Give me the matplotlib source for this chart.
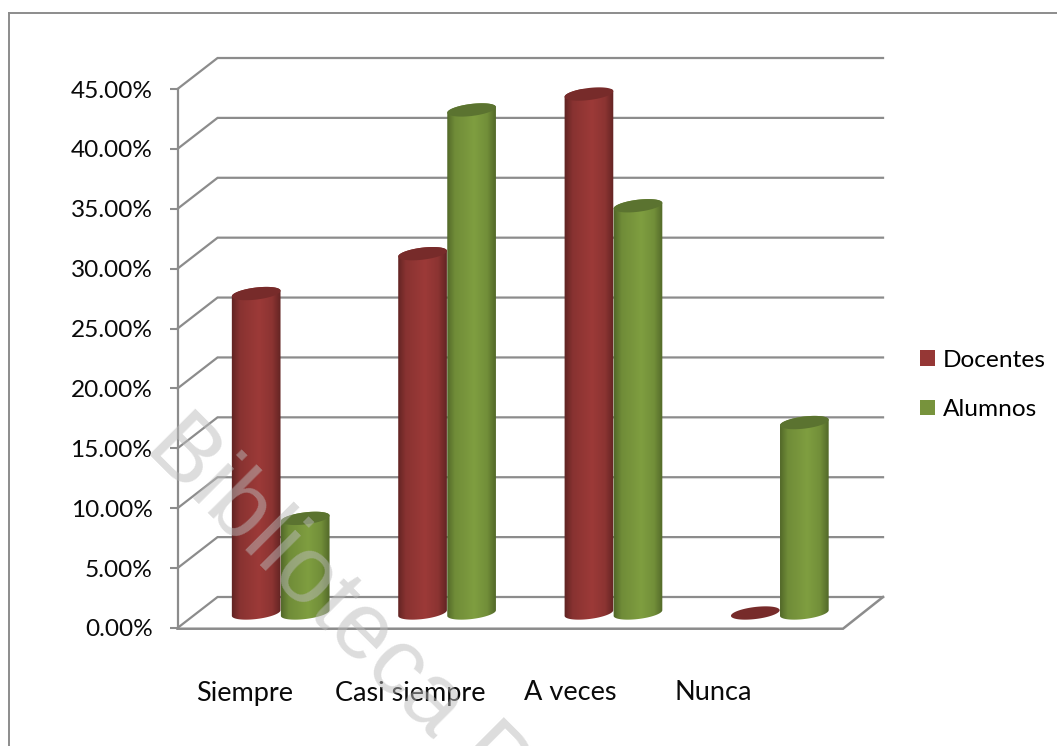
import numpy as np
import matplotlib
matplotlib.use("Agg")
import matplotlib.pyplot as plt
from matplotlib.colors import to_rgb
from matplotlib.lines import Line2D
from matplotlib.patches import Patch, Polygon
from matplotlib.path import Path
from matplotlib.transforms import IdentityTransform

categories = ["Siempre", "Casi siempre", "A veces", "Nunca"]
docentes = [26.67, 30.0, 43.33, 0.0]
alumnos = [7.9, 42.0, 34.0, 15.9]
y_ticks = [0, 5, 10, 15, 20, 25, 30, 35, 40, 45]

W, H = 1057, 746
LINE = "#8c8c8c"
plt.rcParams["font.family"] = ["Lato", "DejaVu Sans"]

# depth of the fake 3D box, in data units
box_dx = 40 / 166.25
box_dy = 31 / 11.98
# bars stand in the middle of the floor
mid_dx = 20 / 166.25
mid_dy = 15 / 11.98
bar_w = 49 / 166.25
tilt = np.radians(7)
ell_b = 6


def ellipse_pts(cx, cy, a, t):
    px = cx + a * np.cos(t) * np.cos(tilt) - ell_b * np.sin(t) * np.sin(tilt)
    py = cy + a * np.cos(t) * np.sin(tilt) + ell_b * np.sin(t) * np.cos(tilt)
    return np.column_stack([px, py])


def mix(c1, c2, f):
    return tuple(c1[i] + (c2[i] - c1[i]) * f for i in range(3))


# Draw one cylinder, shaded from left to right
def cylinder(ax, x, value, dark, mid, top, z):
    left, base = ax.transData.transform((x - bar_w / 2, mid_dy))
    right, tip = ax.transData.transform((x + bar_w / 2, value + mid_dy))
    cx = (left + right) / 2
    a = (right - left) / 2
    if value > 0:
        low = ellipse_pts(cx, base, a, np.linspace(np.pi, 2 * np.pi, 40))
        up = ellipse_pts(cx, tip, a, np.linspace(0, np.pi, 40))
        body = Path(np.vstack([low, up, low[:1]]))
        stops = [0, 0.18, 0.55, 0.8, 1]
        cols = [dark, mix(dark, mid, 0.7), mid, mix(dark, mid, 0.75), dark]
        u = np.linspace(0, 1, 64)
        grad = np.array([[np.interp(v, stops, [c[i] for c in cols]) for i in range(3)] for v in u])
        im = ax.imshow(grad[np.newaxis, :, :], aspect="auto", zorder=z, interpolation="bilinear",
                       extent=(x - bar_w / 2 - 0.01, x + bar_w / 2 + 0.01, 0, value + mid_dy + 1))
        im.set_clip_path(body, IdentityTransform())
    ring = ellipse_pts(cx, tip, a, np.linspace(0, 2 * np.pi, 80))
    ax.add_patch(Polygon(ring, closed=True, fc=top, ec="none", transform=IdentityTransform(),
                         clip_on=False, zorder=z + 0.5))


fig = plt.figure(figsize=(W / 100, H / 100), dpi=100)
ax = fig.add_axes([177.5 / W, (H - 628) / H, 665.5 / W, 539 / H])
ax.set_xlim(0, len(categories))
ax.set_ylim(0, 45)
ax.autoscale(False)
ax.patch.set_visible(False)

# chart frame, only top and left are inside the crop
fig.add_artist(Line2D([8.5 / W, 8.5 / W], [0, 1 - 13 / H], color=LINE, lw=1.4))
fig.add_artist(Line2D([8.5 / W, 1], [1 - 13 / H, 1 - 13 / H], color=LINE, lw=1.4))

# wall grid lines and floor
n = len(categories)
for v in y_ticks:
    ax.plot([0, box_dx, n + box_dx], [v, v + box_dy, v + box_dy], color=LINE, lw=1.6,
            clip_on=False, zorder=1, solid_joinstyle="miter")
ax.plot([0, n, n + box_dx], [-0.06, -0.06, box_dy], color=LINE, lw=1.8, clip_on=False, zorder=1,
        solid_joinstyle="miter")

for s in ["top", "right", "bottom"]:
    ax.spines[s].set_visible(False)
ax.spines["left"].set_color(LINE)
ax.spines["left"].set_linewidth(1.6)
ax.set_xticks([])
ax.set_yticks(y_ticks)
ax.set_yticklabels([f"{v:.2f}%" for v in y_ticks], fontsize=17.6, color="#0a0a0a")
ax.tick_params(axis="y", length=6, width=1.5, color=LINE, pad=12)

red = [to_rgb(c) for c in ("#5a2120", "#9c3a38", "#772b2a")]
green = [to_rgb(c) for c in ("#4c6126", "#7f9e40", "#5b7330")]
for i in range(n):
    center = i + 0.5 + mid_dx
    cylinder(ax, center - bar_w / 2, docentes[i], red[0], red[1], red[2], 3)
    cylinder(ax, center + bar_w / 2, alumnos[i], green[0], green[1], green[2], 4)
ax.set_xlim(0, n)
ax.set_ylim(0, 45)

# category labels are not evenly spaced in the original
label_px = [245, 410, 570, 713]
for name, px in zip(categories, label_px):
    fig.text(px / W, 1 - 693 / H, name, ha="center", va="center", fontsize=19.5, color="#0a0a0a")

handles = [Patch(fc="#953735", ec="none"), Patch(fc="#77933c", ec="none")]
fig.legend(handles, ["Docentes", "Alumnos"], loc="upper left", bbox_to_anchor=(920 / W, 1 - 350 / H),
           frameon=False, fontsize=17.6, handlelength=0.62, handleheight=0.62, handletextpad=0.3,
           labelspacing=1.15, borderpad=0, borderaxespad=0)

# watermark across the chart
fig.text(143 / W, 1 - 449 / H, "Biblioteca Digital", family="Liberation Sans", fontsize=68,
         rotation=-45, rotation_mode="anchor", ha="left", va="baseline",
         color="#bbbbbb", alpha=0.5, zorder=10)

fig.savefig("out.png", dpi=100)
